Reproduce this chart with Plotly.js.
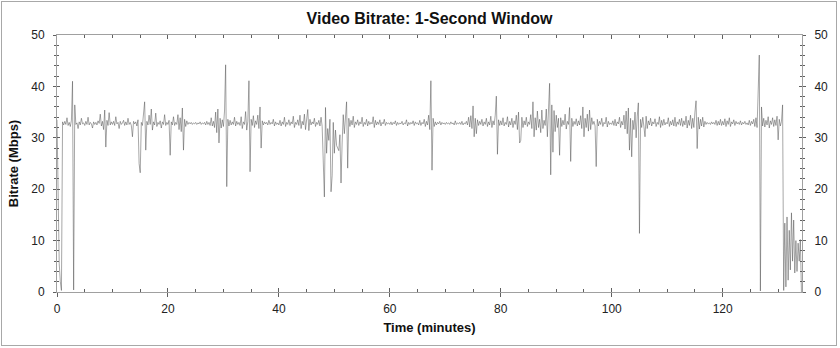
<!DOCTYPE html>
<html>
<head>
<meta charset="utf-8">
<script src="https://cdn.plot.ly/plotly-3.0.1.min.js"></script>
<style>
  html, body { margin: 0; padding: 0; background: #ffffff; }
  #wrap { position: relative; width: 840px; height: 348px; }
  #chart { position: absolute; left: 0; top: 0; width: 840px; height: 348px; }
  #frame { position: absolute; left: 1px; top: 1px; width: 836px; height: 345px;
           box-sizing: border-box; border: 1px solid #a8a8a8; pointer-events: none; }
</style>
</head>
<body>
<div id="wrap"><div id="chart"></div><div id="frame"></div></div>
<script>
// Sampling interval of the series below (minutes between samples)
const T_STEP = 0.2;

// Video bitrate (Mbps), one value every 0.2 min
const bitrate_000_010 = [33.5,15.0,5.5,2.0,0.3,33.1,32.5,33.2,32.6,33.9,32.4,33.0,32.2,33.4,41.0,0.4,36.4,32.6,32.9,31.8,33.1,32.5,33.8,32.7,32.9,32.4,33.2,32.6,34.0,32.5,33.0,32.7,31.9,33.1,32.6,33.0,32.5,33.3,32.8,34.6,32.3,33.2,31.6,35.4,28.2,33.4,32.4,34.9,32.5,33.1];
const bitrate_010_020 = [32.6,33.2,32.4,34.1,32.7,33.0,31.8,33.2,32.6,32.9,33.4,32.4,33.1,32.5,33.8,32.6,33.0,32.4,30.2,33.2,32.7,33.1,32.3,33.5,25.0,23.2,33.0,32.4,34.6,37.0,27.6,33.2,32.5,34.4,32.6,35.6,31.5,33.1,32.5,34.8,32.2,33.0,32.6,33.3,31.9,33.1,32.6,34.5,32.4,33.0];
const bitrate_020_030 = [32.6,33.4,26.6,33.1,32.5,34.1,32.4,33.0,32.6,34.5,31.6,33.9,31.2,35.8,27.6,33.6,32.2,33.3,32.6,33.0,32.7,33.0,32.6,32.9,32.7,33.0,32.6,32.9,32.7,33.1,32.6,32.9,32.7,33.0,32.5,33.2,32.6,33.0,32.4,33.9,32.3,33.2,32.0,35.0,31.0,35.6,29.0,33.8,31.9,33.5];
const bitrate_030_040 = [32.2,35.2,44.2,20.5,33.6,32.3,33.4,32.5,33.1,32.6,34.0,32.3,33.2,32.6,33.0,32.4,34.1,31.8,33.1,32.6,35.1,31.5,33.2,41.1,23.4,33.6,32.4,34.3,32.0,33.3,32.6,34.4,31.8,36.0,28.0,33.3,32.5,33.1,32.7,33.0,32.5,33.4,32.6,33.0,32.7,33.6,32.3,33.1,32.6,32.9];
const bitrate_040_050 = [32.5,33.4,32.3,33.1,32.6,34.0,32.2,33.0,32.6,33.5,32.4,33.1,32.7,34.2,32.0,33.0,32.6,33.5,32.4,34.4,31.8,33.2,32.5,34.6,31.6,33.3,35.5,31.4,33.6,32.5,33.1,32.7,33.8,32.2,33.0,32.6,33.4,32.3,34.0,32.2,23.7,18.5,35.9,27.0,31.8,29.5,33.6,19.5,22.6,33.0];
const bitrate_050_060 = [27.0,31.5,28.5,28.0,27.5,30.6,21.2,29.0,34.5,30.8,33.9,37.0,24.1,33.8,32.2,33.4,32.5,34.2,32.0,33.1,32.6,33.5,32.4,33.1,32.7,34.0,32.2,33.0,32.6,33.6,32.3,33.2,32.6,33.0,32.7,34.1,32.0,33.4,32.5,33.1,32.6,33.5,32.3,33.0,32.7,33.6,32.4,33.0,32.7,32.9];
const bitrate_060_070 = [32.6,33.1,32.5,33.0,32.7,33.3,32.4,33.0,32.6,32.9,32.7,33.2,32.5,32.9,32.7,33.5,32.3,33.0,32.6,33.0,32.7,33.3,32.4,33.1,32.7,32.9,32.5,33.4,32.4,33.0,32.7,33.6,32.2,33.2,32.5,34.4,31.6,41.1,23.7,33.8,32.2,33.1,32.5,33.0,32.7,33.2,32.5,33.0,32.7,32.9];
const bitrate_070_080 = [32.6,33.0,32.7,32.9,32.6,33.1,32.7,32.9,32.5,33.3,32.6,32.9,32.7,33.0,32.6,33.2,32.5,32.9,32.7,33.2,32.5,34.0,32.1,34.3,31.8,36.2,30.2,33.8,30.8,33.5,32.4,33.2,32.6,33.6,32.3,33.1,32.6,33.8,32.2,33.1,32.5,34.2,32.0,33.3,32.5,34.4,38.1,26.8,33.5,32.4];
const bitrate_080_090 = [33.3,32.5,33.9,32.3,33.0,32.6,34.1,32.1,33.2,32.5,33.8,32.0,33.3,32.6,34.4,31.6,35.0,29.0,29.5,34.0,32.0,33.3,32.5,34.0,32.2,33.1,32.6,34.5,31.8,37.0,30.2,33.9,31.5,35.2,32.0,33.6,31.0,35.4,31.8,33.4,32.4,35.6,30.2,37.0,40.6,22.8,36.4,27.2,35.3,31.2];
const bitrate_090_100 = [34.4,32.0,33.8,26.6,33.9,32.2,33.4,32.5,34.6,31.7,33.2,32.6,35.9,25.4,33.8,32.2,33.2,32.6,33.7,32.3,33.3,32.5,34.3,31.8,36.0,30.2,33.8,32.0,34.6,31.3,35.4,31.6,33.9,32.6,33.2,32.3,24.4,33.6,32.3,33.2,32.6,33.8,32.2,33.0,32.7,34.0,32.1,33.2,32.6,32.9];
const bitrate_100_110 = [32.6,33.3,32.4,33.6,32.3,33.1,32.7,34.0,32.0,33.2,32.5,34.4,31.7,35.2,30.8,35.8,27.6,33.8,26.3,33.4,31.6,35.0,30.0,34.2,36.8,11.4,33.6,32.0,34.0,32.2,30.2,34.2,31.8,33.3,32.5,33.8,32.3,33.1,32.7,33.7,32.2,33.0,32.6,34.1,32.0,33.4,32.4,33.6,32.5,33.0];
const bitrate_110_120 = [32.7,33.9,32.2,33.2,32.5,33.5,32.3,34.0,32.2,33.1,32.6,33.6,32.4,33.8,32.2,33.3,32.5,34.2,31.9,33.4,32.4,34.4,31.8,33.8,32.0,35.0,37.2,27.9,34.0,31.7,33.6,32.3,34.0,32.1,33.2,32.6,33.0,32.7,32.9,32.6,33.1,32.7,33.0,32.6,33.4,32.4,33.2,32.5,33.6,32.4];
const bitrate_120_130 = [33.2,32.5,33.7,32.2,33.3,32.6,33.9,32.2,33.1,32.7,33.5,32.4,33.2,32.7,33.0,32.6,33.3,32.5,33.0,32.7,33.2,32.6,32.9,32.5,33.4,32.4,33.2,32.7,33.6,32.2,33.9,32.0,37.7,46.1,0.2,36.0,32.3,33.8,32.1,33.4,32.5,34.1,31.9,33.3,32.6,33.9,32.2,33.5,32.4,34.2];
const bitrate_130_end = [29.6,33.6,32.3,33.2,36.4,0.3,13.4,1.0,14.6,2.3,12.0,4.3,15.4,6.0,14.0,3.7,10.0,4.0,9.5,6.0,10.2,0.0];

// Axis settings
const X_RANGE = [0, 134.3];
const Y_RANGE = [0, 50];
const X_TICKS = [0, 20, 40, 60, 80, 100, 120];
const Y_TICKS = [0, 10, 20, 30, 40, 50];

const bitrate = [].concat(bitrate_000_010, bitrate_010_020, bitrate_020_030, bitrate_030_040,
  bitrate_040_050, bitrate_050_060, bitrate_060_070, bitrate_070_080, bitrate_080_090,
  bitrate_090_100, bitrate_100_110, bitrate_110_120, bitrate_120_130, bitrate_130_end);
const minutes = bitrate.map((_, i) => Math.round(i * T_STEP * 10) / 10);

const FONT = 'Arial, "Liberation Sans", sans-serif';
const LINE = '#a0a0a0';
const TICK = '#606060';

const trace = {
  x: minutes, y: bitrate, type: 'scatter', mode: 'lines',
  line: { color: 'rgba(80,80,80,0.5)', width: 1 },
  hoverinfo: 'skip', showlegend: false
};

const layout = {
  width: 840, height: 348,
  margin: { l: 57, r: 38, t: 35, b: 56, pad: 0 },
  paper_bgcolor: '#ffffff', plot_bgcolor: '#ffffff',
  font: { family: FONT, size: 12, color: '#222222' },
  title: { text: '<b>Video Bitrate: 1-Second Window</b>', font: { family: FONT, size: 16, color: '#111111' },
           x: 0.5, xref: 'paper', y: 0.948, yref: 'container', yanchor: 'middle' },
  showlegend: false,
  xaxis: {
    range: X_RANGE, tickvals: X_TICKS, ticks: 'inside', ticklen: 4, tickcolor: TICK, tickwidth: 1,
    minor: { dtick: 5, tick0: 0, ticks: 'inside', ticklen: 3, tickcolor: TICK, showgrid: false },
    showline: true, linecolor: LINE, linewidth: 1, mirror: 'ticks',
    showgrid: false, zeroline: false, ticklabelstandoff: 6,
    tickfont: { family: FONT, size: 12, color: '#222222' },
    title: { text: '<b>Time (minutes)</b>', font: { family: FONT, size: 13, color: '#111111' }, standoff: 7 }
  },
  xaxis2: {
    overlaying: 'x', anchor: 'y', side: 'bottom', range: X_RANGE, tickvals: X_TICKS,
    ticks: 'outside', ticklen: 4, tickcolor: TICK, showticklabels: false,
    showline: false, showgrid: false, zeroline: false
  },
  yaxis: {
    range: Y_RANGE, tickvals: Y_TICKS, ticks: 'outside', ticklen: 3, tickcolor: TICK,
    minor: { dtick: 2, tick0: 0, ticks: 'outside', ticklen: 2, tickcolor: TICK, showgrid: false },
    showline: true, linecolor: LINE, linewidth: 1, mirror: true,
    showgrid: false, zeroline: false, ticklabelstandoff: 6,
    tickfont: { family: FONT, size: 12, color: '#222222' },
    title: { text: '<b>Bitrate (Mbps)</b>', font: { family: FONT, size: 13, color: '#111111' }, standoff: 9 }
  },
  yaxis2: {
    overlaying: 'y', anchor: 'x', side: 'right', range: Y_RANGE, tickvals: Y_TICKS,
    ticks: 'outside', ticklen: 3, tickcolor: TICK,
    minor: { dtick: 2, tick0: 0, ticks: 'outside', ticklen: 2, tickcolor: TICK, showgrid: false },
    showline: false, showgrid: false, zeroline: false, ticklabelstandoff: 6,
    tickfont: { family: FONT, size: 12, color: '#222222' }
  },
  yaxis3: {
    overlaying: 'y', anchor: 'x', side: 'left', range: Y_RANGE, tickvals: Y_TICKS,
    ticks: 'inside', ticklen: 3, tickcolor: TICK, mirror: 'ticks',
    minor: { dtick: 2, tick0: 0, ticks: 'inside', ticklen: 2, tickcolor: TICK, showgrid: false },
    showticklabels: false, showline: false, showgrid: false, zeroline: false
  }
};

const helpers = [
  { x: [null], y: [null], xaxis: 'x2', yaxis: 'y', type: 'scatter', showlegend: false, hoverinfo: 'skip' },
  { x: [null], y: [null], xaxis: 'x', yaxis: 'y2', type: 'scatter', showlegend: false, hoverinfo: 'skip' },
  { x: [null], y: [null], xaxis: 'x', yaxis: 'y3', type: 'scatter', showlegend: false, hoverinfo: 'skip' }
];

Plotly.newPlot('chart', helpers.concat([trace]), layout, { staticPlot: true, displayModeBar: false });
</script>
</body>
</html>
